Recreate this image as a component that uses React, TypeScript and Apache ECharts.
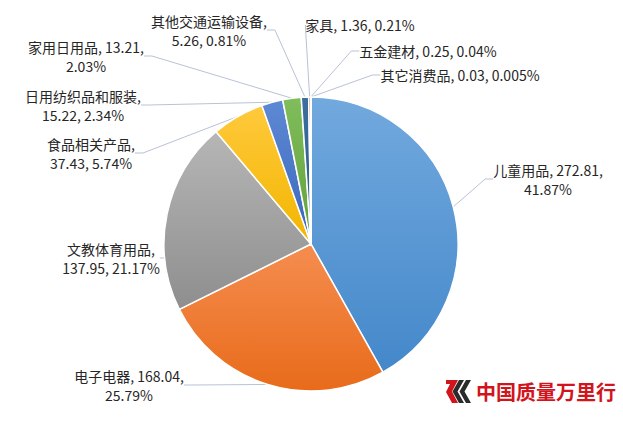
import React, { useEffect, useRef } from 'react';
import * as echarts from 'echarts';

const categories = ['儿童用品', '电子电器', '文教体育用品', '食品相关产品', '日用纺织品和服装', '家用日用品', '其他交通运输设备', '家具', '五金建材', '其它消费品'];
const values = [272.81, 168.04, 137.95, 37.43, 15.22, 13.21, 5.26, 1.36, 0.25, 0.03];
const percentLabels = ['41.87%', '25.79%', '21.17%', '5.74%', '2.34%', '2.03%', '0.81%', '0.21%', '0.04%', '0.005%'];
// 0 = one line, 1 = break before percent, 2 = break after name
const breakStyle = [1, 1, 2, 2, 2, 1, 2, 0, 0, 0];

// layout (label block centres)
const labelCenters = [[548, 179], [129, 385], [111, 258], [91, 153], [83, 105], [86, 56], [209, 30], [360, 25], [428, 51], [460, 75]];
const sliceColors = [
  ['#72a9de', '#4488ca'],
  ['#f58d50', '#e86b1a'],
  ['#b6b6b6', '#8e8e8e'],
  ['#ffc93c', '#f2b600'],
  ['#5d89d4', '#3a66bc'],
  ['#80bd5b', '#62a03b'],
  ['#3d6e9f', '#285a8e'],
  ['#a85520', '#934009'],
  ['#707070', '#5a5a5a'],
  ['#a37d10', '#8d6800'],
];

export default function App() {
  const ref = useRef<HTMLDivElement>(null);
  useEffect(() => {
    document.body.style.margin = '0';
    const chart = echarts.init(ref.current!, null, { renderer: 'svg' });
    const data = categories.map((name, i) => ({
      name,
      value: values[i],
      itemStyle: {
        color: new echarts.graphic.LinearGradient(0, 0, 0, 1, [
          { offset: 0, color: sliceColors[i][0] },
          { offset: 1, color: sliceColors[i][1] },
        ]),
      },
    }));
    chart.setOption({
      animation: false,
      backgroundColor: '#ffffff',
      series: [
        {
          type: 'pie',
          center: [311, 244],
          radius: 147,
          startAngle: 90,
          clockwise: true,
          avoidLabelOverlap: false,
          itemStyle: { borderColor: '#ffffff', borderWidth: 1.5 },
          label: {
            show: true,
            position: 'outside',
            color: '#262626',
            fontSize: 14,
            lineHeight: 19,
            fontFamily: "'Noto Sans CJK SC', sans-serif",
            align: 'center',
            formatter: (p: any) => {
              const i = p.dataIndex;
              const v = values[i].toFixed(2);
              const pc = percentLabels[i];
              if (breakStyle[i] === 1) return `${p.name}, ${v},\n${pc}`;
              if (breakStyle[i] === 2) return `${p.name},\n${v}, ${pc}`;
              return `${p.name}, ${v}, ${pc}`;
            },
          },
          labelLine: {
            show: true,
            length: 10,
            length2: 8,
            smooth: false,
            lineStyle: { color: '#b7c3d6', width: 1 },
          },
          labelLayout: (params: any) => {
            const c = labelCenters[params.dataIndex];
            return { x: c[0], y: c[1], align: 'center', verticalAlign: 'middle' };
          },
          emphasis: { disabled: true },
          data,
        },
      ],
      graphic: [
        {
          type: 'polygon',
          shape: { points: [[446, 380], [458, 380], [452, 391.5], [458, 403], [452, 403], [446, 392], [450, 384], [446, 384]] },
          style: { fill: '#d2141c' },
        },
        {
          type: 'polygon',
          shape: { points: [[459, 380], [464, 380], [457.5, 391.5], [464, 403], [459, 403], [452.5, 391.5]] },
          style: { fill: '#2b2b2b' },
        },
        {
          type: 'polygon',
          shape: { points: [[466, 380], [471, 380], [464.5, 391.5], [471, 403], [466, 403], [459.5, 391.5]] },
          style: { fill: '#2b2b2b' },
        },
        {
          type: 'text',
          x: 476,
          y: 381,
          style: {
            text: '中国质量万里行',
            fill: '#d2141c',
            fontSize: 20,
            fontWeight: 'bold',
            fontFamily: "'Noto Sans CJK SC', sans-serif",
            textVerticalAlign: 'top',
          },
        },
      ],
    });
    return () => chart.dispose();
  }, []);
  return <div ref={ref} style={{ width: 623, height: 421 }} />;
}
